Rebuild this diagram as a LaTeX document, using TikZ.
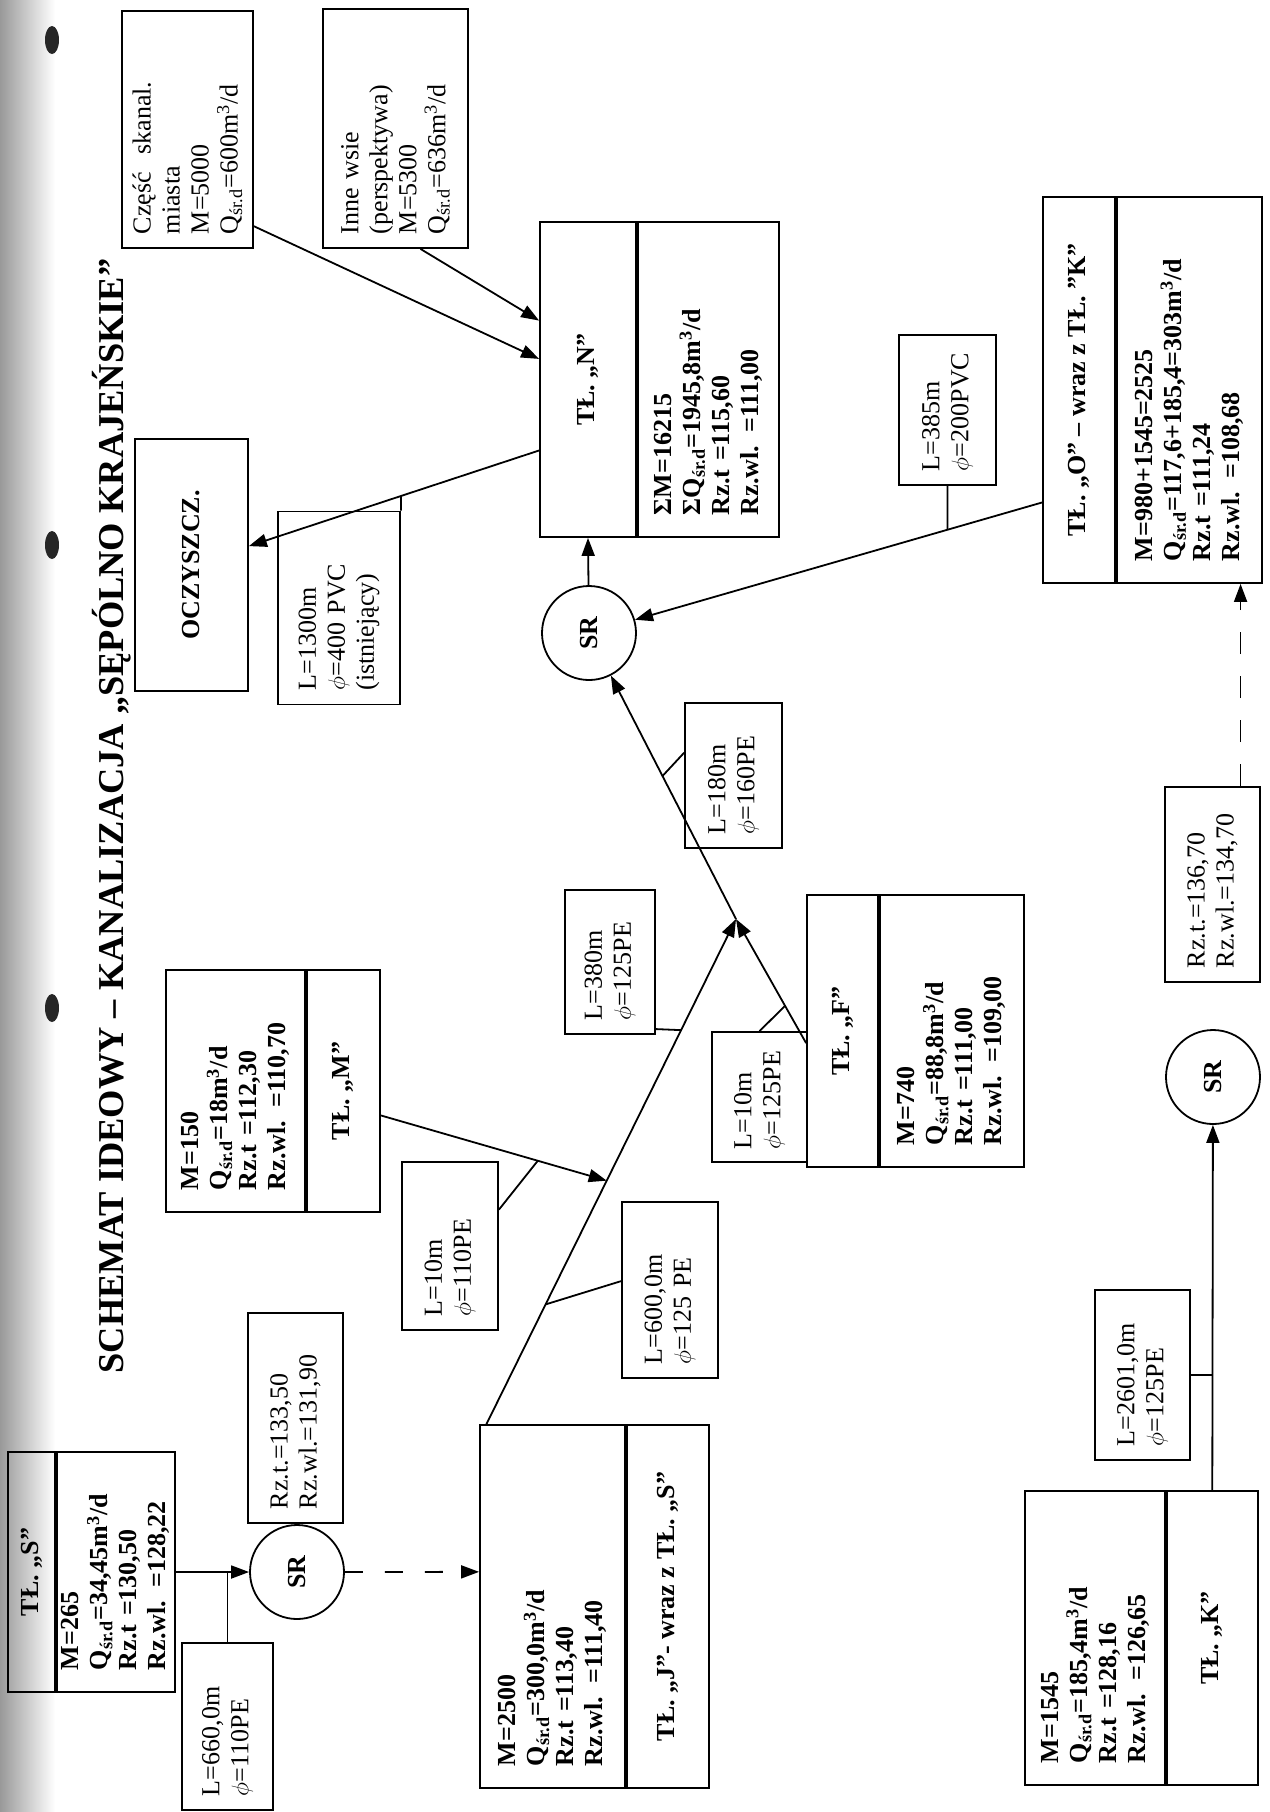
\documentclass[tikz,border=0pt]{standalone}
\usepackage{fontspec}
\setmainfont{Liberation Serif}
\usetikzlibrary{arrows.meta,calc,positioning}
\newcommand{\Qs}{Q\textsubscript{śr.d}}
\newcommand{\mcub}{m\textsuperscript{3}/d}
\newcommand{\bxfont}{\fontsize{13}{14.5}\selectfont}

\begin{document}
\begin{tikzpicture}[x=0.5pt,y=-0.5pt,line width=0.9pt,>={Triangle[length=9pt,width=6.5pt]},
  lbl/.style={draw,rotate=90,inner sep=0pt,font=\bxfont\bfseries},
  dat/.style={draw,rotate=90,align=left,inner xsep=11pt,inner ysep=0pt,font=\bxfont\bfseries},
  pipe/.style={draw,rotate=90,align=left,inner xsep=7pt,inner ysep=0pt,font=\bxfont},
  sr/.style={draw,circle,rotate=90,minimum size=47pt,inner sep=0pt,font=\bxfont\bfseries}]
\useasboundingbox (0,0) rectangle (1270,1812);
% scan edge
\shade[left color=black!40,right color=white,draw=none] (0,0) rectangle (55,1812);
\fill[black!85] (52,40) ellipse [x radius=7,y radius=14];
\fill[black!85] (52,545) ellipse [x radius=7,y radius=14];
\fill[black!85] (52,1008) ellipse [x radius=7,y radius=14];

\node[rotate=90,font=\fontsize{18.2}{21}\selectfont\bfseries] (title) at (112,816)
  {SCHEMAT IDEOWY – KANALIZACJA „SĘPÓLNO KRAJEŃSKIE”};

% inflows to N
\node[pipe,text width=104.5pt,minimum height=65.5pt] (czesc) at (187.5,129.5)
  {Część\ \ skanal.\\ miasta\\ M=5000\\ \Qs=600\mcub};
\node[pipe,text width=105.5pt,minimum height=72.5pt] (inne) at (395.5,128.5)
  {Inne wsie\\ (perspektywa)\\ M=5300\\ \Qs=636\mcub};
\node[lbl,minimum width=126pt,minimum height=56.5pt] (ocz) at (191.5,565) {OCZYSZCZ.};
\node[pipe,text width=82.5pt,minimum height=61pt] (L1300) at (339,608)
  {L=1300m\\ $\phi$=400 PVC\\ (istniejący)};

% N
\node[lbl,minimum width=157.5pt,minimum height=48pt] (Nlab) at (588,379.5) {TŁ. „N”};
\node[dat,anchor=north,text width=135.5pt,minimum height=70.5pt] (Ndata) at (Nlab.south)
  {ΣM=16215\\ Σ\Qs=1945,8\mcub\\ Rz.t =115,60\\ Rz.wl. =111,00};
\node[sr] (srN) at (589,633) {SR};

% O
\node[lbl,minimum width=193pt,minimum height=36pt] (Olab) at (1079,390) {TŁ. „O” – wraz z TŁ. ”K”};
\node[dat,anchor=north,text width=171pt,minimum height=72.5pt] (Odata) at (Olab.south)
  {M=980+1545=2525\\ \Qs=117,6+185,4=303\mcub\\ Rz.t =111,24\\ Rz.wl. =108,68};
\node[pipe,text width=61pt,minimum height=48.5pt] (L385) at (947.5,410) {L=385m\\ $\phi$=200PVC};

% F
\node[lbl,minimum width=136pt,minimum height=35.5pt] (Flab) at (842.5,1031) {TŁ. „F”};
\node[dat,anchor=north,text width=114pt,minimum height=72pt] (Fdata) at (Flab.south)
  {M=740\\ \Qs=88,8\mcub\\ Rz.t =111,00\\ Rz.wl. =109,00};
\node[pipe,inner xsep=6.5pt,text width=52pt,minimum height=47.5pt] (L10b) at (759.5,1097) {L=10m\\ $\phi$=125PE};
\node[pipe,text width=58pt,minimum height=45pt] (L380) at (610,962) {L=380m\\ $\phi$=125PE};
\node[pipe,text width=58.5pt,minimum height=48.5pt] (L180) at (733.5,775.5) {L=180m\\ $\phi$=160PE};

% M
\node[dat,text width=99pt,minimum height=69.5pt] (Mdata) at (235.5,1091)
  {M=150\\ \Qs=18\mcub\\ Rz.t =112,30\\ Rz.wl. =110,70};
\node[lbl,anchor=north,minimum width=121pt,minimum height=36.5pt] (Mlab) at (Mdata.south) {TŁ. „M”};
\node[pipe,text width=70pt,minimum height=48pt] (L10a) at (450,1246) {L=10m\\ $\phi$=110PE};

% J
\node[dat,text width=159.5pt,minimum height=72.5pt] (Jdata) at (552.5,1606.5)
  {M=2500\\ \Qs=300,0\mcub\\ Rz.t =113,40\\ Rz.wl. =111,40};
\node[lbl,anchor=north,minimum width=181.5pt,minimum height=41pt] (Jlab) at (Jdata.south)
  {TŁ. „J”- wraz z TŁ. „S”};
\node[pipe,text width=74pt,minimum height=48pt] (L600) at (670,1290) {L=600,0m\\ $\phi$=125 PE};

% S
\node[lbl,minimum width=120pt,minimum height=23.5pt] (Slab) at (31.5,1572) {TŁ. „S”};
\node[dat,anchor=north,text width=98pt,minimum height=59pt] (Sdata) at (Slab.south)
  {M=265\\ \Qs=34,45\mcub\\ Rz.t =130,50\\ Rz.wl. =128,22};
\node[sr] (srS) at (297,1572) {SR};
\node[pipe,text width=91pt,minimum height=47.5pt] (Rz133) at (295.5,1418) {Rz.t.=133,50\\ Rz.wl.=131,90};
\node[pipe,text width=69.5pt,minimum height=45.5pt] (L660) at (227.5,1726.5) {L=660,0m\\ $\phi$=110PE};

% K
\node[dat,text width=125pt,minimum height=70pt] (Kdata) at (1095,1638)
  {M=1545\\ \Qs=185,4\mcub\\ Rz.t =128,16\\ Rz.wl. =126,65};
\node[lbl,anchor=north,minimum width=147pt,minimum height=45.5pt] (Klab) at (Kdata.south) {TŁ. „K”};
\node[pipe,text width=71pt,minimum height=47.5pt] (L2601) at (1142.5,1375) {L=2601,0m\\ $\phi$=125PE};
\node[sr] (srK) at (1213,1077) {SR};
\node[pipe,text width=83.5pt,minimum height=47.5pt] (Rz136) at (1212.5,884.5) {Rz.t.=136,70\\ Rz.wl.=134,70};

% points on the pipes
\coordinate (jun) at (736,919);
\coordinate (jS) at ($(Jdata.north east)!0.05!(Jdata.south east)$);
\coordinate (fS) at ($(Flab.north west)!0.456!(Flab.north east)$);
\coordinate (jM) at ($(jS)!0.482!(jun)$);
\coordinate (mS) at ($(Mlab.south west)!0.4!(Mlab.south east)$);
\coordinate (oS) at ($(Olab.north west)!0.21!(Olab.north east)$);
\coordinate (nO) at ($(Nlab.north west)!0.276!(Nlab.north east)$);
\coordinate (czS) at ($(czesc.south west)!0.095!(czesc.south east)$);
\coordinate (inS) at ($(inne.north west)!0.67!(inne.south west)$);
\coordinate (jL) at ($(Jdata.north west)!0.595!(Jdata.north east)$);
\coordinate (rzO) at ($(Rz136.north east)!0.79!(Rz136.south east)$);

% sewers
\draw[->] (czS) -- ($(Nlab.north west)!0.565!(Nlab.north east)$);
\draw[->] (inS) -- ($(Nlab.north west)!0.686!(Nlab.north east)$);
\draw[->] (nO) -- (ocz);
\draw[->] (srN) -- (Nlab.west);
\draw[->] (oS) -- (srN);
\draw[->] (jS) -- (jun);
\draw[->] (fS) -- (jun);
\draw[->] (jun) -- (srN);
\draw[->] (mS) -- (jM);
\draw[->] (Sdata.south) -- (srS);
\draw[->,dash pattern=on 9pt off 11pt] (srS) -- (jL);
\draw[->] (Klab.east) -- (srK);
\draw[->,dash pattern=on 11pt off 11pt] (rzO) -- (rzO |- Odata.west);

% leaders
\draw (L1300.south east) -- (intersection of L1300.south east--L1300.south west and nO--ocz);
\draw (L385.west) -- (intersection of L385.west--L385.east and oS--srN);
\draw ($(L180.north west)!0.655!(L180.north east)$) -- ($(jun)!0.5!(srN)$);
\draw ($(L10a.south west)!0.714!(L10a.south east)$) -- ($(mS)!0.695!(jM)$);
\draw ($(L600.north west)!0.55!(L600.north east)$) -- ($(jS)!0.237!(jun)$);
\draw ($(L380.south west)!0.04!(L380.south east)$) -- ($(jS)!0.78!(jun)$);
\draw (L10b.east) -- ($(fS)!0.3!(jun)$);
\draw (L660.east) -- (L660.east |- srS);
\draw (L2601.south) -- (L2601.south -| Klab.east);
\end{tikzpicture}
\end{document}
